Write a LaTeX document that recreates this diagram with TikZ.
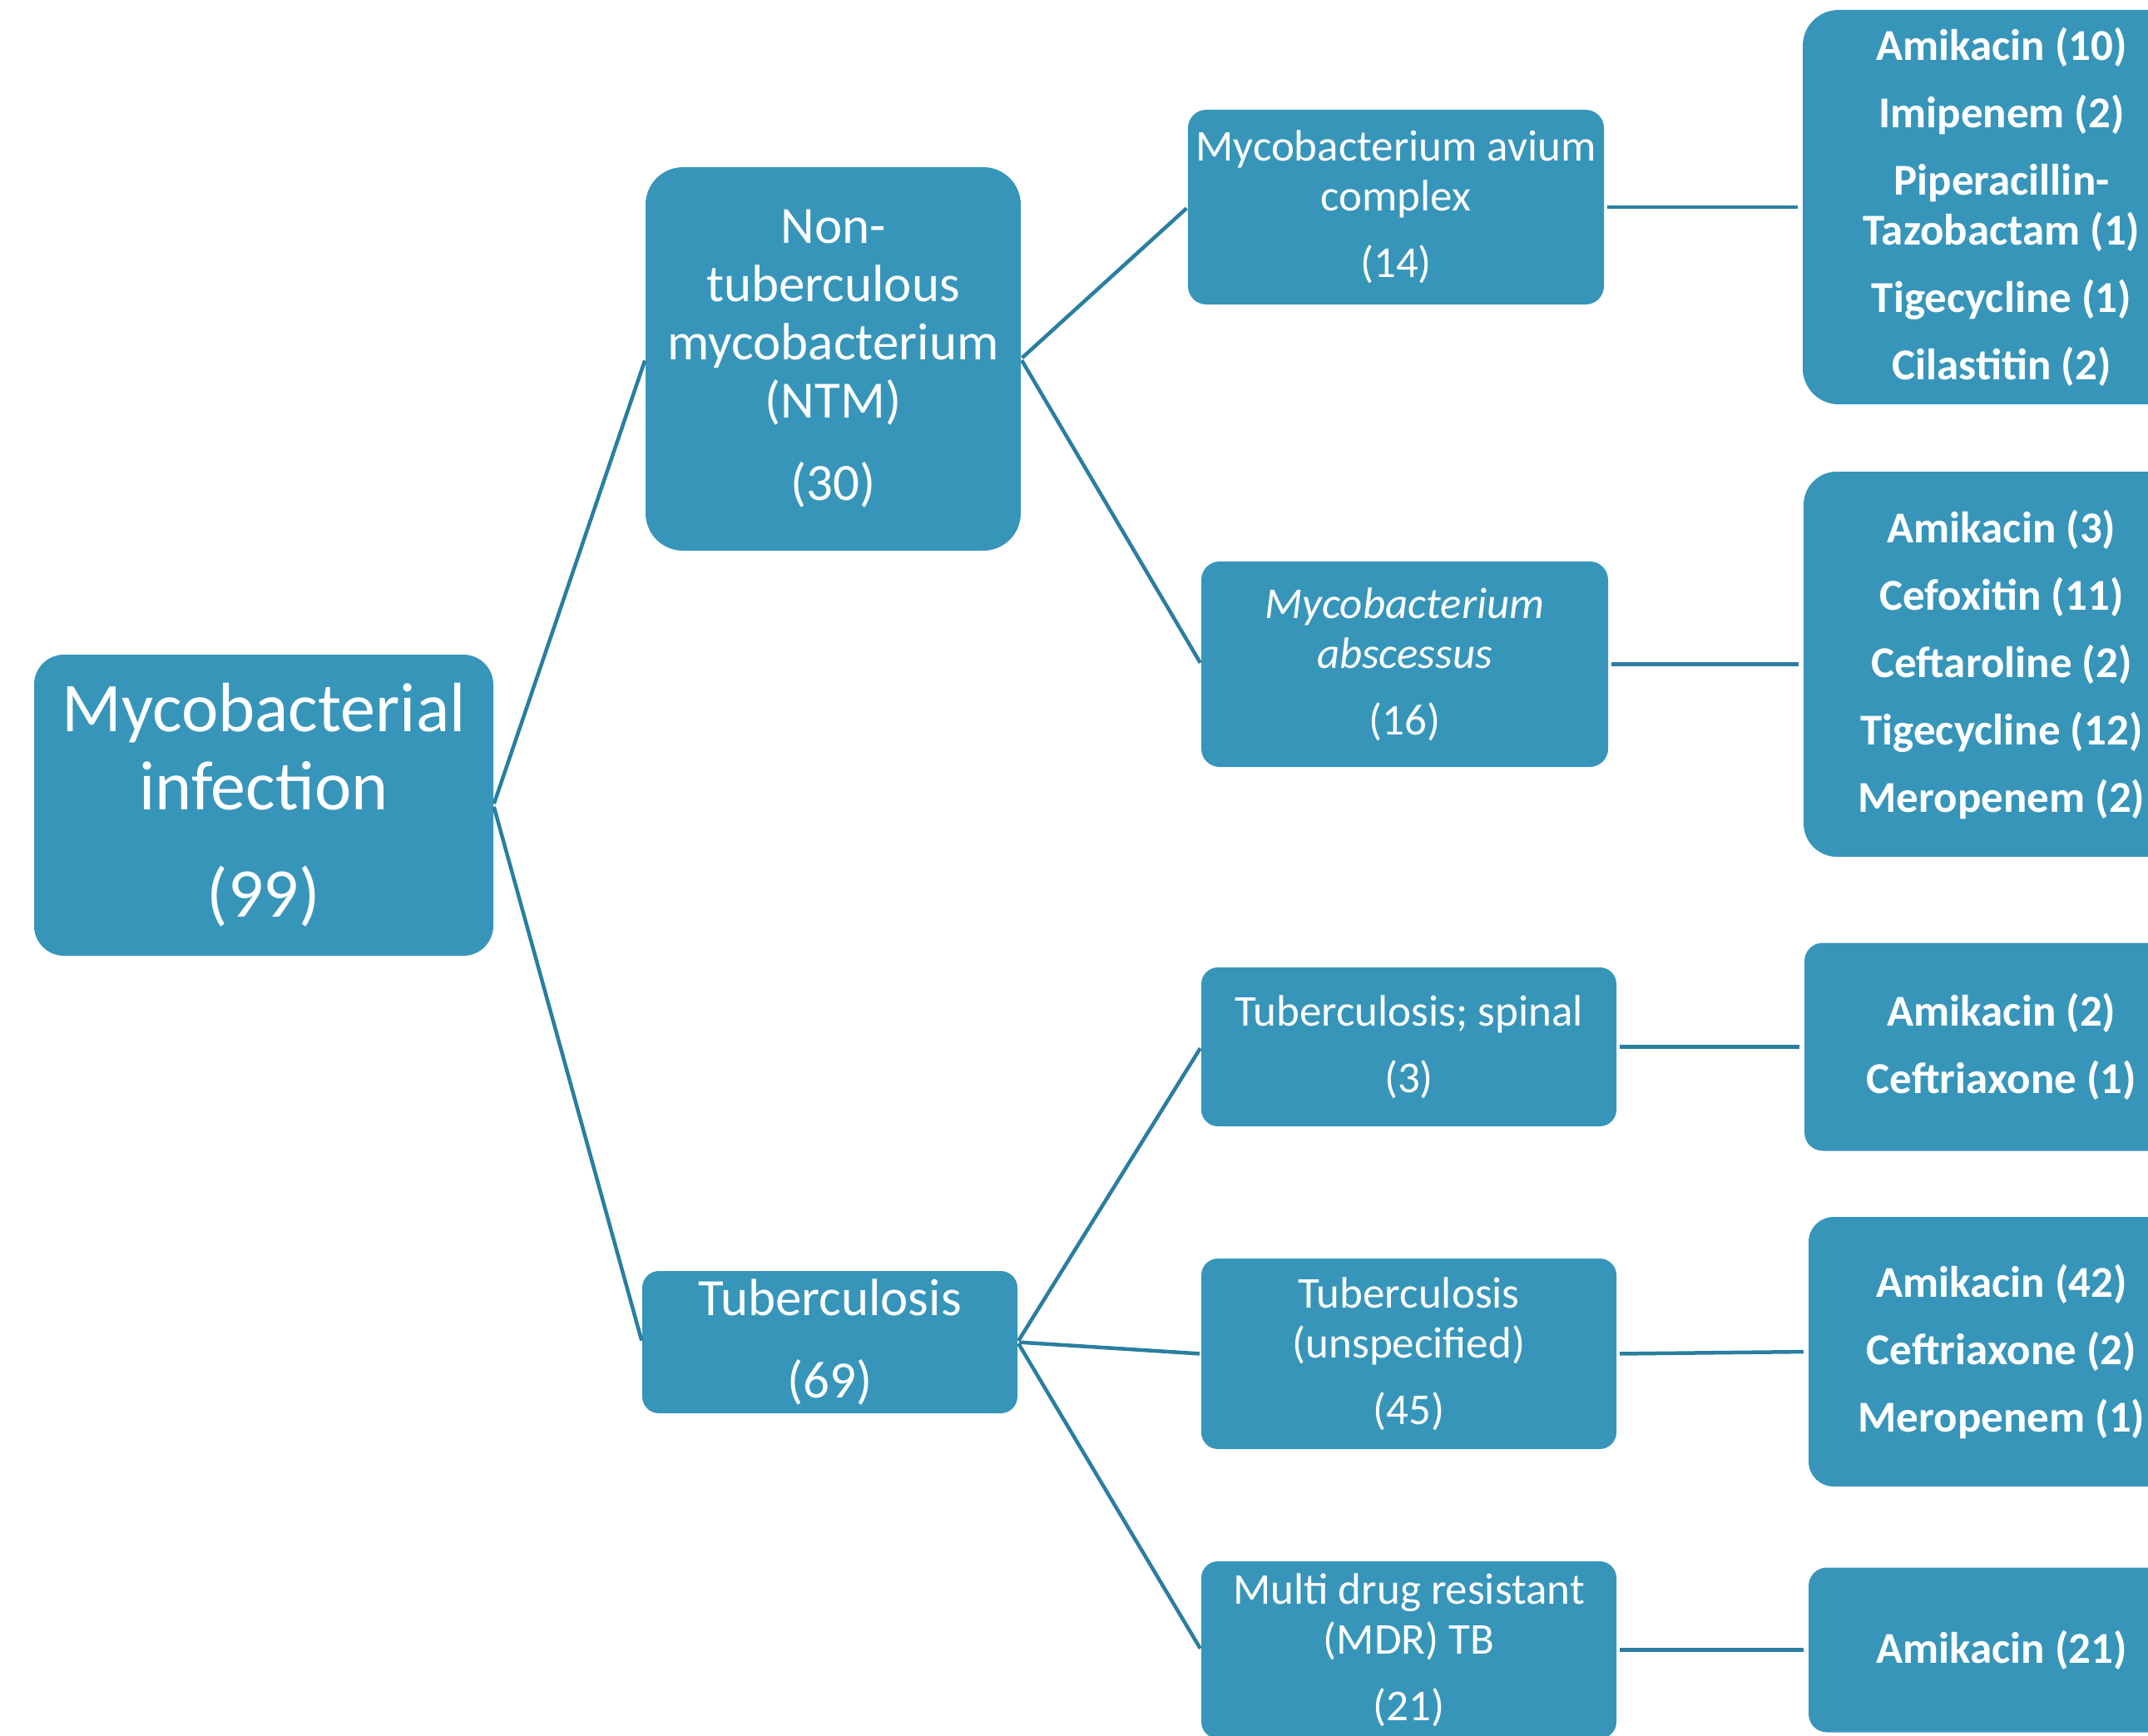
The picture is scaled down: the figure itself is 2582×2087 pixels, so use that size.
\documentclass[tikz,border=0pt]{standalone}
\usepackage{fontspec}
\setmainfont{Carlito}
\definecolor{boxblue}{RGB}{55,149,186}
\definecolor{linkblue}{RGB}{42,126,160}
\tikzset{
  box/.style={fill=boxblue, text=white, rounded corners=#1, inner sep=0pt, align=center},
  box/.default=22pt,
  bigfont/.style={font=\fontsize{84pt}{94pt}\selectfont},
  lvlone/.style={font=\fontsize{63pt}{70pt}\selectfont},
  lvltwo/.style={font=\fontsize{53pt}{60pt}\selectfont},
  drug/.style={font=\fontsize{53pt}{60pt}\selectfont\bfseries},
  link/.style={draw=linkblue, line width=4.5pt, shorten <=2pt, shorten >=2pt},
  hlink/.style={draw=linkblue, line width=4.5pt, shorten <=4pt, shorten >=6pt}
}
\begin{document}
\begin{tikzpicture}[x=1pt,y=-1pt]
\useasboundingbox (0,0) rectangle (2582,2087);
\clip (0,0) rectangle (2582,2087);
% level 0
\node[box=36pt, bigfont, minimum width=552pt, minimum height=362pt] (root) at (317,968)
  {Mycobacterial\\infection\\[35pt](99)};
% level 1
\node[box=45pt, lvlone, minimum width=451pt, minimum height=461pt] (ntm) at (1001.5,431.5)
  {Non-\\tuberculous\\mycobacterium\\(NTM)\\[29pt](30)};
\node[box=20pt, lvlone, minimum width=451pt, minimum height=171pt] (tb) at (997.5,1613.5)
  {Tuberculosis\\[29pt](69)};
% level 2
\node[box=22pt, lvltwo, minimum width=500pt, minimum height=234pt] (mac) at (1678,249)
  {Mycobacterium avium\\complex\\[20pt](14)};
\node[box=22pt, lvltwo, minimum width=489pt, minimum height=247pt] (abs) at (1688.5,798.5)
  {\itshape Mycobacterium\\\itshape abscessus\\[20pt](16)};
\node[box=20pt, lvltwo, minimum width=499pt, minimum height=191pt] (spin) at (1693.5,1258.5)
  {Tuberculosis; spinal\\[20pt](3)};
\node[box=20pt, lvltwo, minimum width=499pt, minimum height=229pt] (unsp) at (1693.5,1627.5)
  {Tuberculosis\\(unspecified)\\[20pt](45)};
\node[box=20pt, lvltwo, minimum width=499pt, minimum height=213pt] (mdr) at (1693.5,1983.5)
  {Multi drug resistant\\(MDR) TB\\[20pt](21)};
% level 3
\node[box=43pt, drug, minimum width=478pt, minimum height=474pt] (d1) at (2406,249)
  {Amikacin (10)\\[21pt]Imipenem (2)\\[21pt]Piperacillin-\\Tazobactam (1)\\[21pt]Tigecycline (1)\\[21pt]Cilastitin (2)};
\node[box=40pt, drug, minimum width=476pt, minimum height=463pt] (d2) at (2406,798.5)
  {Amikacin (3)\\[21pt]Cefoxitin (11)\\[21pt]Ceftaroline (2)\\[21pt]Tigecycline (12)\\[21pt]Meropenem (2)};
\node[box=22pt, drug, minimum width=474pt, minimum height=250pt] (d3) at (2406,1258.5)
  {Amikacin (2)\\[21pt]Ceftriaxone (1)};
\node[box=30pt, drug, minimum width=464pt, minimum height=324pt] (d4) at (2406,1625)
  {Amikacin (42)\\[21pt]Ceftriaxone (2)\\[21pt]Meropenem (1)};
\node[box=22pt, drug, minimum width=464pt, minimum height=198pt] (d5) at (2406,1983.5)
  {Amikacin (21)};
% connectors
\draw[link] (root.east) -- (ntm.west);
\draw[link] (root.east) -- (tb.west);
\draw[link] (ntm.east) -- (mac.west);
\draw[link] (ntm.east) -- (abs.west);
\draw[link] (tb.east) -- (spin.west);
\draw[link] (tb.east) -- (unsp.west);
\draw[link] (tb.east) -- (mdr.west);
\draw[hlink] (mac.east) -- (d1.west);
\draw[hlink] (abs.east) -- (d2.west);
\draw[hlink] (spin.east) -- (d3.west);
\draw[hlink] (unsp.east) -- (d4.west);
\draw[hlink] (mdr.east) -- (d5.west);
\end{tikzpicture}
\end{document}
